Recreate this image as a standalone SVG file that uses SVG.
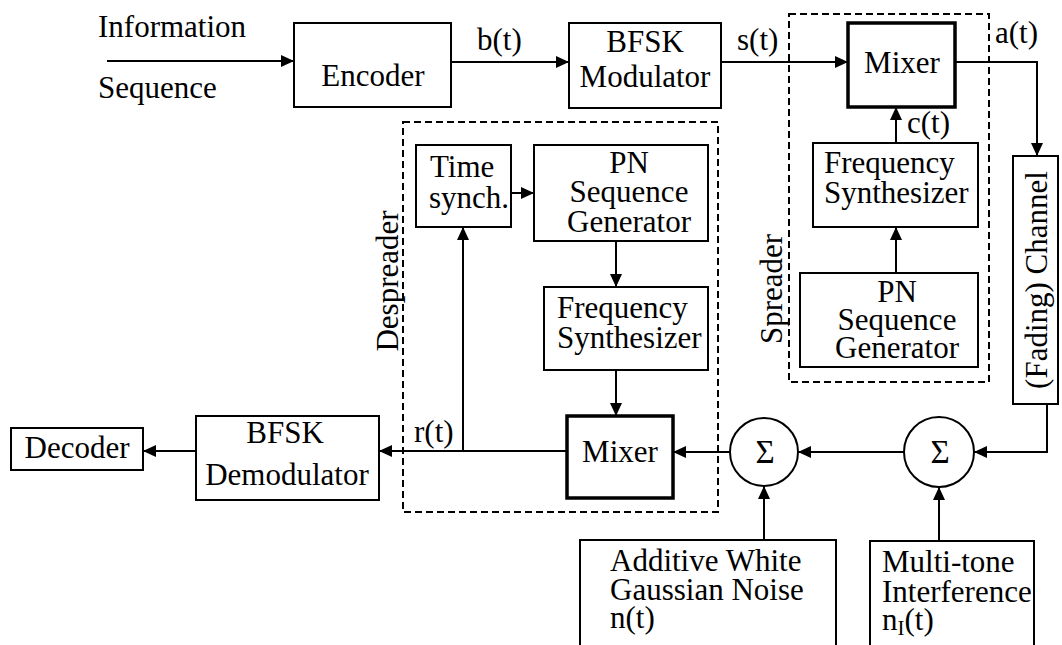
<svg xmlns="http://www.w3.org/2000/svg" width="1062" height="645" viewBox="0 0 1062 645">
<defs>
<marker id="ah" markerUnits="userSpaceOnUse" markerWidth="14" markerHeight="14" refX="13" refY="7" orient="auto">
<path d="M0,1 L13,7 L0,13 z" fill="#000"/>
</marker>
<style>
text{font-family:"Liberation Serif","Times New Roman",serif;font-size:31px;fill:#000}
.box{fill:none;stroke:#000;stroke-width:2}
.thick{fill:none;stroke:#000;stroke-width:3.5}
.dash{fill:none;stroke:#000;stroke-width:2;stroke-dasharray:7 4}
.c{text-anchor:middle}
.ln{fill:none;stroke:#000;stroke-width:2}
.arr{fill:none;stroke:#000;stroke-width:2;marker-end:url(#ah)}
</style>
</defs>
<rect width="1062" height="645" fill="#fff"/>

<g id="spreader-group">
<rect class="dash" x="789" y="14" width="200" height="368"/>
<text transform="translate(782,289) rotate(-90)" class="c">Spreader</text>
</g>
<g id="despreader-group">
<rect class="dash" x="403" y="122" width="315" height="390"/>
<text transform="translate(398,281) rotate(-90)" class="c">Despreader</text>
</g>

<g id="labels">
<text x="98" y="37">Information</text>
<text x="98" y="98">Sequence</text>
<text x="477" y="50">b(t)</text>
<text x="737" y="50">s(t)</text>
<text x="995" y="43">a(t)</text>
<text x="907" y="133">c(t)</text>
<text x="414" y="442">r(t)</text>
</g>

<g id="encoder"><rect class="box" x="294" y="23" width="157" height="84"/><text class="c" x="373" y="86">Encoder</text></g>
<g id="bfsk-mod"><rect class="box" x="569" y="23" width="152" height="85"/><text class="c" x="645" y="52">BFSK</text><text class="c" x="645" y="87">Modulator</text></g>
<g id="mixer-tx"><rect class="thick" x="848" y="23" width="107" height="84"/><text class="c" x="902" y="73">Mixer</text></g>
<g id="fs-tx"><rect class="box" x="813" y="143" width="165" height="84"/><text x="824" y="173">Frequency</text><text x="824" y="203">Synthesizer</text></g>
<g id="pn-tx"><rect class="box" x="800" y="273" width="178" height="94"/><text class="c" x="897" y="302">PN</text><text class="c" x="897" y="330">Sequence</text><text class="c" x="897" y="358">Generator</text></g>
<g id="channel"><rect class="box" x="1013" y="156" width="45" height="248"/><text class="c" transform="translate(1047,280) rotate(-90)">(Fading) Channel</text></g>
<g id="sum2"><circle class="box" cx="939" cy="452" r="35"/><text class="c" x="940" y="463" style="font-size:33px">Σ</text></g>
<g id="sum1"><circle class="box" cx="764" cy="452" r="34"/><text class="c" x="765" y="463" style="font-size:33px">Σ</text></g>
<g id="awgn"><rect class="box" x="580" y="540" width="256" height="110"/><text x="610" y="571">Additive White</text><text x="610" y="600">Gaussian Noise</text><text x="610" y="628">n(t)</text></g>
<g id="mti"><rect class="box" x="870" y="541" width="164" height="110"/><text x="882" y="572">Multi-tone</text><text x="882" y="602">Interference</text><text x="882" y="630">n<tspan dy="5" style="font-size:21px">I</tspan><tspan dy="-5">(t)</tspan></text></g>
<g id="time-synch"><rect class="box" x="416" y="145" width="95" height="82"/><text x="430" y="177">Time</text><text x="429" y="208">synch.</text></g>
<g id="pn-rx"><rect class="box" x="534" y="145" width="174" height="96"/><text class="c" x="629" y="173">PN</text><text class="c" x="629" y="202">Sequence</text><text class="c" x="629" y="232">Generator</text></g>
<g id="fs-rx"><rect class="box" x="544" y="287" width="164" height="83"/><text x="557" y="318">Frequency</text><text x="557" y="348">Synthesizer</text></g>
<g id="mixer-rx"><rect class="thick" x="567" y="416" width="106" height="82"/><text class="c" x="620" y="462">Mixer</text></g>
<g id="bfsk-demod"><rect class="box" x="196" y="416" width="183" height="84"/><text class="c" x="285" y="443">BFSK</text><text class="c" x="287" y="485">Demodulator</text></g>
<g id="decoder"><rect class="box" x="11" y="428" width="132" height="42"/><text class="c" x="77" y="458">Decoder</text></g>

<g id="connectors">
<path class="arr" d="M107,61 H294"/>
<path class="arr" d="M451,62 H569"/>
<path class="arr" d="M721,62 H848"/>
<path class="arr" d="M955,62 H1037 V156"/>
<path class="arr" d="M896,143 V107"/>
<path class="arr" d="M896,273 V227"/>
<path class="arr" d="M1047,404 V452 H974"/>
<path class="arr" d="M904,452 H798"/>
<path class="arr" d="M730,452 H673"/>
<path class="arr" d="M764,540 V486"/>
<path class="arr" d="M939,541 V487"/>
<path class="arr" d="M511,193 H534"/>
<path class="arr" d="M616,241 V287"/>
<path class="arr" d="M616,370 V416"/>
<path class="arr" d="M567,451 H379"/>
<path class="arr" d="M463,451 V227"/>
<path class="arr" d="M196,451 H143"/>
</g>
</svg>
